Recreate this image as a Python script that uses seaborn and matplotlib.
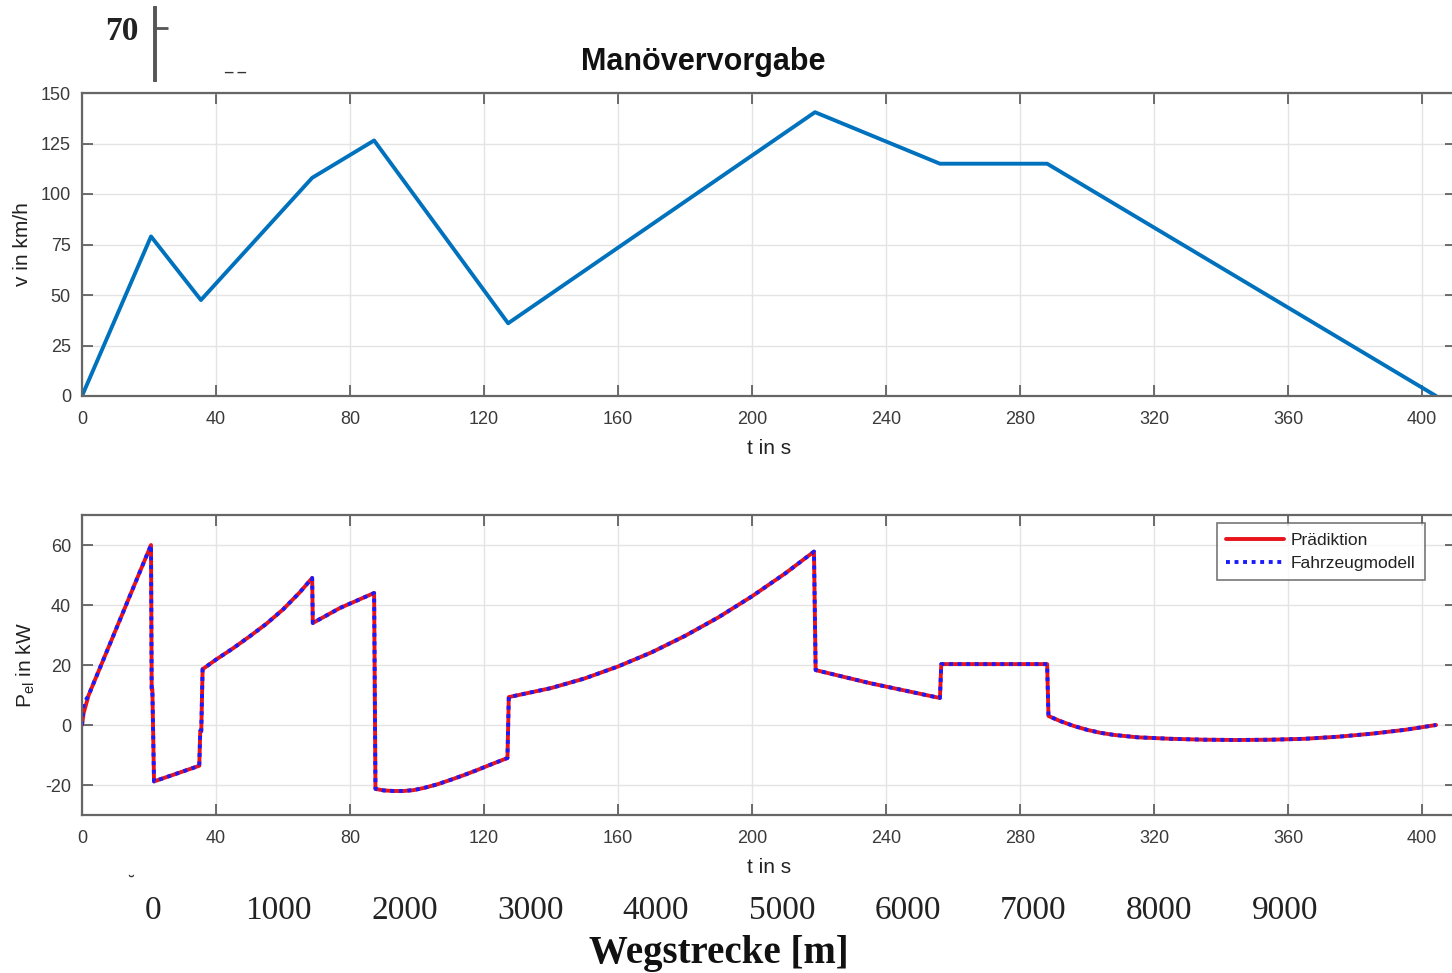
import matplotlib
matplotlib.use("Agg")
import matplotlib.pyplot as plt
import seaborn as sns

# ---------------- data ----------------
t_v = [0, 20.6, 35.5, 68.7, 87.2, 127.2, 218.8, 256.1, 288.1, 404.2]
v_kmh = [0, 79, 47.5, 108, 126.5, 36, 140.5, 115, 115, 0]

t_p = [0, 0.5, 2, 20.6, 20.8, 21.0, 21.5, 35.0, 35.3, 35.6, 36.0,
       40, 45, 50, 55, 60, 65, 68.7,
       68.9, 77, 87.2,
       87.6, 90, 93, 96, 99, 102, 106, 110, 114, 118, 122, 127.0,
       127.4, 140, 150, 160, 170, 180, 190, 200, 210, 218.5,
       219.0, 235, 256.1,
       256.5, 288.1,
       288.5, 292, 296, 300, 304, 308, 315, 325, 335, 345, 355, 365, 375, 385,
       395, 404.2]
p_pred = [0, 4, 10, 60, 12, 12, -18.8, -13.6, -2, -2, 18.6,
          21.8, 25.5, 29.5, 33.7, 38.5, 44.2, 49.0,
          34, 39, 44,
          -21.3, -21.8, -22.0, -22.0, -21.7, -21.0, -19.8, -18.3, -16.7, -15.0, -13.2, -11,
          9.3, 12.3, 15.5, 19.5, 24.2, 29.7, 35.9, 42.9, 50.6, 57.8,
          18.3, 14, 9,
          20.3, 20.3,
          3, 1.3, -0.3, -1.6, -2.6, -3.3, -4.1, -4.6, -4.9, -5.0, -4.9, -4.6,
          -3.9, -2.9, -1.6, 0]
p_model = [0, 7, 10, 60, 12, 12, -18.8, -13.6, -2, -2, 18.6,
           21.8, 25.5, 29.5, 33.7, 38.5, 44.2, 49.0,
           34, 39, 44,
           -21.3, -21.8, -22.0, -22.0, -21.7, -21.0, -19.8, -18.3, -16.7, -15.0, -13.2, -11,
           9.3, 12.3, 15.5, 19.5, 24.2, 29.7, 35.9, 42.9, 50.6, 57.8,
           18.3, 14, 9,
           20.3, 20.3,
           3, 1.3, -0.3, -1.6, -2.6, -3.3, -4.1, -4.6, -4.9, -5.0, -4.9, -4.6,
           -3.9, -2.9, -1.6, 0]

t_ticks = [0, 40, 80, 120, 160, 200, 240, 280, 320, 360, 400]
v_ticks = [0, 25, 50, 75, 100, 125, 150]
p_ticks = [-20, 0, 20, 40, 60]
dist_ticks = [0, 1000, 2000, 3000, 4000, 5000, 6000, 7000, 8000, 9000]
frag_ticks = [70]

# ---------------- style ----------------
sns.set_theme(style="white")
plt.rcParams["font.family"] = ["Liberation Sans", "DejaVu Sans"]
plt.rcParams["mathtext.fontset"] = "custom"
plt.rcParams["mathtext.rm"] = "Liberation Sans"
plt.rcParams["axes.unicode_minus"] = False

W, H = 1452, 973
fig = plt.figure(figsize=(W / 100, H / 100), dpi=100)
fig.patch.set_facecolor("white")


def fa(x0, y0, x1, y1):
    return [x0 / W, 1 - y1 / H, (x1 - x0) / W, (y1 - y0) / H]


ax1 = fig.add_axes(fa(82, 93, 1455.5, 396))
ax2 = fig.add_axes(fa(82, 515, 1455.5, 815))

spine_c = "#666666"
lab_c = "#3a3a3a"
for ax in (ax1, ax2):
    ax.set_facecolor("white")
    ax.grid(True, color="#e4e4e4", lw=1.0)
    ax.set_axisbelow(True)
    for s in ax.spines.values():
        s.set_color(spine_c)
        s.set_linewidth(1.6)
    ax.tick_params(direction="in", length=8, width=1.2, color="#555555",
                   top=True, right=True, bottom=True, left=True,
                   labelsize=13, labelcolor=lab_c)
    ax.tick_params(axis="x", pad=11)
    ax.tick_params(axis="y", pad=8)
    ax.set_xlim(0, 410)
    ax.set_xticks(t_ticks)
    ax.set_xlabel("t in s", fontsize=15, color="#222222", labelpad=8)

# top panel
sns.lineplot(x=t_v, y=v_kmh, ax=ax1, color="#0072BD", lw=2.8,
             estimator=None, sort=False)
ax1.set_ylim(0, 150)
ax1.set_yticks(v_ticks)
ax1.set_ylabel("v in km/h", fontsize=15, color="#222222", labelpad=6)

# bottom panel
sns.lineplot(x=t_p, y=p_pred, ax=ax2, color="#E8141C", lw=2.8,
             estimator=None, sort=False, label="Prädiktion")
sns.lineplot(x=t_p, y=p_model, ax=ax2, color="#1a1aff", lw=2.8,
             linestyle=(0, (1, 1.2)), estimator=None, sort=False,
             label="Fahrzeugmodell")
ax2.set_ylim(-30, 70)
ax2.set_yticks(p_ticks)
ax2.set_ylabel(r"P$_{\rm el}$ in kW", fontsize=15, color="#222222", labelpad=6)
leg = ax2.legend(loc="upper right", bbox_to_anchor=(1425 / W, 1 - 523 / H),
                 bbox_transform=fig.transFigure, borderaxespad=0,
                 fontsize=12.5, frameon=True, fancybox=False, handlelength=3.3,
                 handletextpad=0.4, labelspacing=0.45, borderpad=0.55)
leg.get_frame().set_edgecolor("#555555")
leg.get_frame().set_linewidth(1.2)
for txt in leg.get_texts():
    txt.set_color("#222222")

# title
fig.text(703 / W, 1 - 62 / H, "Manövervorgabe", ha="center", va="center",
         fontsize=22, fontweight="bold", color="#111111")

# fragment axis at the top left (overlaid piece of another figure)
ax4 = fig.add_axes(fa(155, 8, 156, 80))
ax4.set_ylim(57, 75)
ax4.set_yticks(frag_ticks)
ax4.set_xticks([])
for k in ("top", "right", "bottom"):
    ax4.spines[k].set_visible(False)
ax4.spines["left"].set_color("#555555")
ax4.spines["left"].set_linewidth(2.8)
ax4.patch.set_alpha(0)
ax4.tick_params(axis="y", left=True, direction="in", length=9, width=2,
                color="#555555", labelsize=24, labelcolor="#222222", pad=12)
for lab in ax4.get_yticklabels():
    lab.set_family(["Liberation Serif", "DejaVu Serif"])
    lab.set_fontweight("bold")
fig.text(235 / W, 1 - 80 / H, "‾ ‾", ha="center", va="center",
         fontsize=12, color="#333333", family=["DejaVu Sans"])

# distance axis at the bottom (overlaid piece of another figure)
ax3 = fig.add_axes(fa(153, 890, 1285, 891))
ax3.set_xlim(0, 9000)
ax3.set_xticks(dist_ticks)
ax3.set_yticks([])
for s in ax3.spines.values():
    s.set_visible(False)
ax3.patch.set_alpha(0)
ax3.tick_params(axis="x", length=0, labelsize=24, labelcolor="#222222", pad=3)
for lab in ax3.get_xticklabels():
    lab.set_family(["Liberation Serif", "DejaVu Serif"])
fig.text(131 / W, 1 - 884 / H, "˘", ha="center", va="center",
         fontsize=13, color="#333333", family=["DejaVu Sans"])
fig.text(719 / W, 1 - 953 / H, "Wegstrecke [m]", ha="center", va="center",
         fontsize=28, fontweight="bold", color="#111111",
         family=["Liberation Serif", "DejaVu Serif"])

fig.savefig("out.png", dpi=100, facecolor="white")
